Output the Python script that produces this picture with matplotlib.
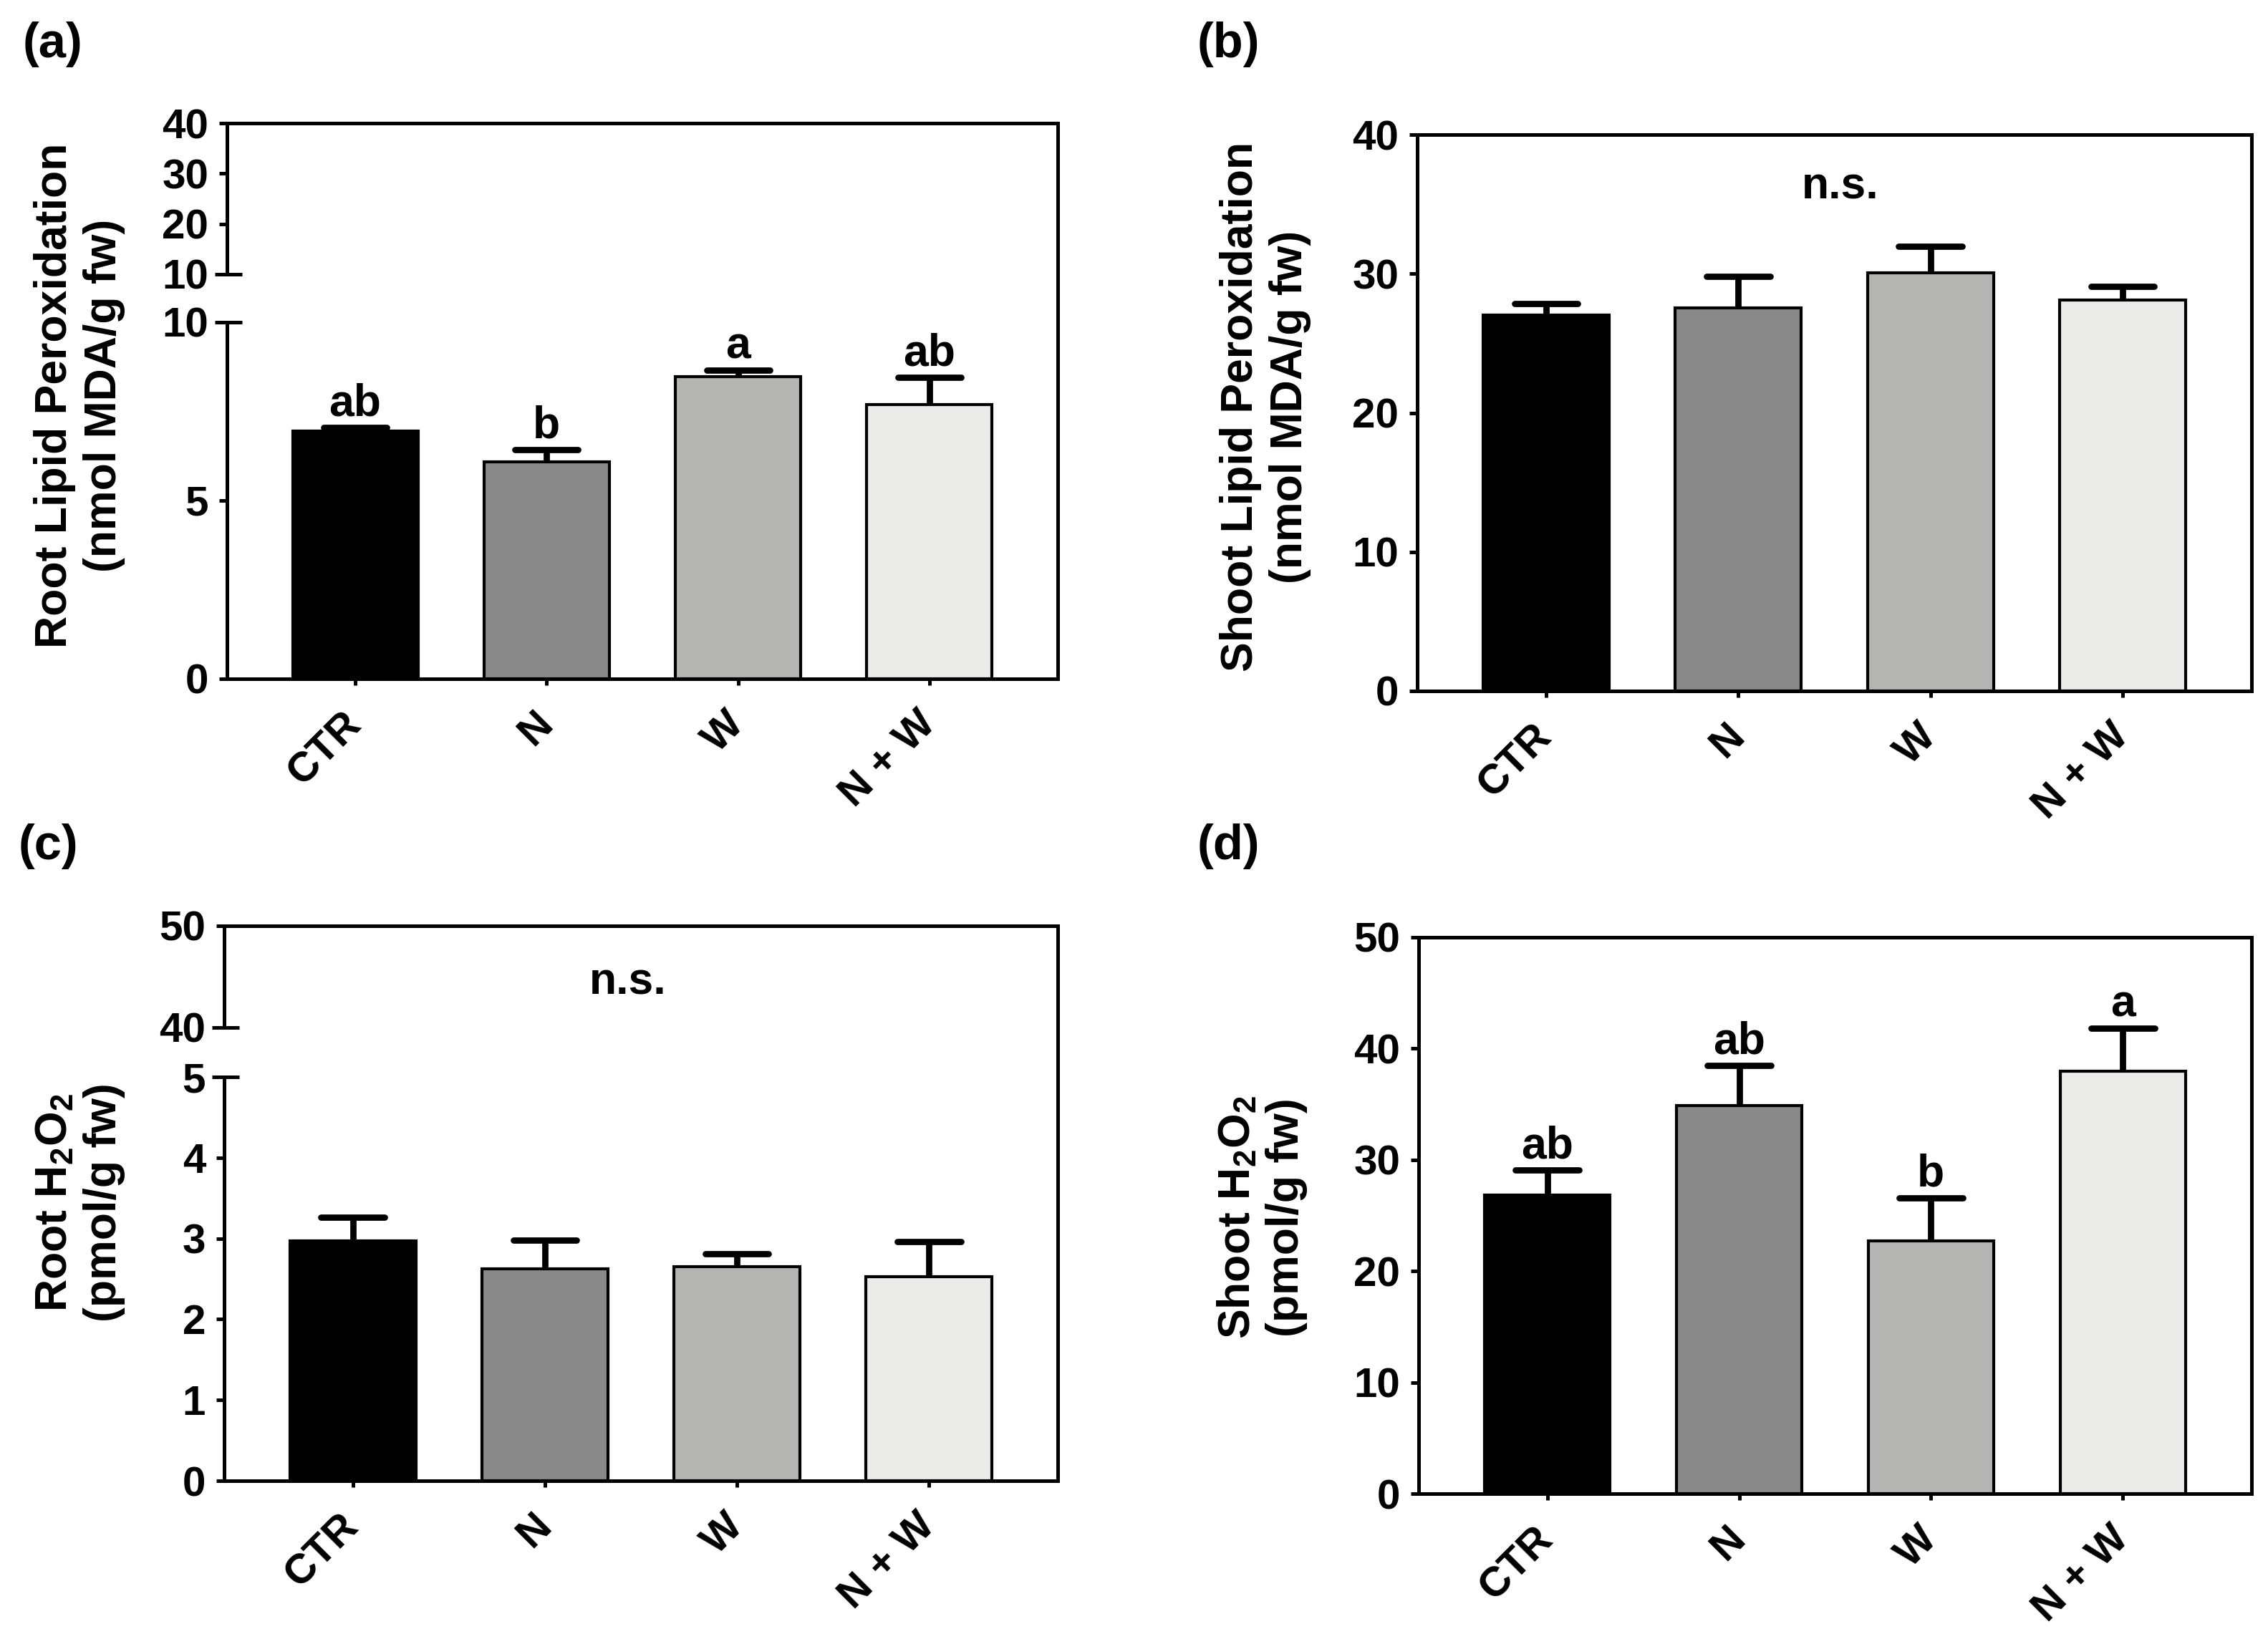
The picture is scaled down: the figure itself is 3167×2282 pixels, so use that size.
import matplotlib
matplotlib.use("Agg")
import matplotlib.pyplot as plt
from matplotlib.lines import Line2D
import numpy as np

plt.rcParams['font.family'] = ['Liberation Sans', 'DejaVu Sans']
plt.rcParams['font.weight'] = 'bold'
plt.rcParams['mathtext.fontset'] = 'custom'
plt.rcParams['mathtext.rm'] = 'Liberation Sans:bold'
plt.rcParams['mathtext.bf'] = 'Liberation Sans:bold'
plt.rcParams['mathtext.default'] = 'rm'

# ---------------- data ----------------
categories = ['CTR', 'N', 'W', 'N + W']
bar_colors = ['#000000', '#898989', '#b4b4b3', '#ebece9']

root_lpo = [6.94, 6.09, 8.48, 7.70]
root_lpo_err = [0.11, 0.34, 0.18, 0.75]
root_lpo_letters = ['ab', 'b', 'a', 'ab']

shoot_lpo = [27.03, 27.56, 30.06, 28.13]
shoot_lpo_err = [0.83, 2.27, 1.89, 0.98]

root_h2o2 = [2.97, 2.62, 2.65, 2.53]
root_h2o2_err = [0.29, 0.36, 0.16, 0.43]

shoot_h2o2 = [26.83, 34.87, 22.70, 37.98]
shoot_h2o2_err = [2.27, 3.63, 3.86, 3.82]
shoot_h2o2_letters = ['ab', 'ab', 'b', 'a']

# ---------------- figure ----------------
W, H = 3167, 2282
DPI = 300
fig = plt.figure(figsize=(W / DPI, H / DPI), dpi=DPI)

LW = 1.2
TICK_FS = 14
XT_FS = 14
LAB_FS = 15
ANN_FS = 15
PANEL_FS = 16.5
XLIM = (-0.67, 3.67)
BAR_W = 0.655
CAP_HW = 0.165


def px_axes(x0, x1, ytop, ybot):
    return fig.add_axes([x0 / W, 1 - ybot / H, (x1 - x0) / W, (ybot - ytop) / H])


def style(ax, xt=True):
    ax.set_xlim(*XLIM)
    for s in ax.spines.values():
        s.set_linewidth(LW)
    ax.tick_params(axis='y', direction='out', length=2.7, width=LW, labelsize=TICK_FS, pad=3.5)
    ax.tick_params(axis='x', direction='out', length=2.2, width=LW, labelsize=XT_FS, pad=11)
    for lab in ax.get_yticklabels():
        lab.set_fontweight('bold')
    if xt:
        ax.set_xticks(range(len(categories)))
        ax.set_xticklabels(categories, rotation=45, ha='right', va='center',
                           rotation_mode='anchor', fontweight='bold')
    else:
        ax.set_xticks([])


def draw_bars(ax, vals, errs):
    x = np.arange(len(vals))
    ax.bar(x, vals, width=BAR_W, color=bar_colors, edgecolor='black', linewidth=1.0, zorder=2)
    tops = np.array(vals) + np.array(errs)
    ax.vlines(x, vals, tops, colors='black', linewidth=2.1, zorder=3)
    ax.hlines(tops, x - CAP_HW, x + CAP_HW, colors='black', linewidth=2.1, zorder=3,
              capstyle='round')
    return tops


def annotate(ax, tops, letters):
    for i, (t, l) in enumerate(zip(tops, letters)):
        ax.annotate(l, xy=(i, t), xytext=(0, 4), textcoords='offset points',
                    ha='center', va='baseline', fontsize=ANN_FS, fontweight='bold')


def break_marks(ax_up, ax_lo):
    # horizontal break marks across the left axis and continuous right spine
    for ax, y in ((ax_up, 0), (ax_lo, 1)):
        bb = ax.get_position()
        xl = bb.x0
        yy = bb.y0 if y == 0 else bb.y1
        fig.add_artist(Line2D([xl - 17 / W, xl + 21 / W], [yy, yy], color='black',
                              linewidth=LW, solid_capstyle='butt'))
    b1 = ax_up.get_position()
    b2 = ax_lo.get_position()
    fig.add_artist(Line2D([b1.x1, b1.x1], [b2.y1, b1.y0], color='black',
                          linewidth=LW, solid_capstyle='butt'))


# ---------------- panel (a) ----------------
axa_up = px_axes(317, 1477, 172, 383)
axa_lo = px_axes(317, 1477, 450, 948)
for ax in (axa_up, axa_lo):
    draw_bars(ax, root_lpo, root_lpo_err)
axa_up.set_ylim(10, 40)
axa_up.set_yticks([10, 20, 30, 40])
axa_lo.set_ylim(0, 10)
axa_lo.set_yticks([0, 5, 10])
style(axa_up, xt=False)
style(axa_lo)
axa_up.spines['bottom'].set_visible(False)
axa_lo.spines['top'].set_visible(False)
tops = np.array(root_lpo) + np.array(root_lpo_err)
annotate(axa_lo, tops, root_lpo_letters)
break_marks(axa_up, axa_lo)

# ---------------- panel (b) ----------------
axb = px_axes(1979, 3144, 188, 965)
tops = draw_bars(axb, shoot_lpo, shoot_lpo_err)
axb.set_ylim(0, 40)
axb.set_yticks([0, 10, 20, 30, 40])
style(axb)
axb.text(1.53, 35.4, 'n.s.', ha='center', va='baseline', fontsize=ANN_FS, fontweight='bold')

# ---------------- panel (c) ----------------
axc_up = px_axes(313, 1477, 1293, 1435)
axc_lo = px_axes(313, 1477, 1504, 2068)
for ax in (axc_up, axc_lo):
    draw_bars(ax, root_h2o2, root_h2o2_err)
axc_up.set_ylim(40, 50)
axc_up.set_yticks([40, 50])
axc_lo.set_ylim(0, 5)
axc_lo.set_yticks([0, 1, 2, 3, 4, 5])
style(axc_up, xt=False)
style(axc_lo)
axc_up.spines['bottom'].set_visible(False)
axc_lo.spines['top'].set_visible(False)
axc_up.text(1.43, 43.3, 'n.s.', ha='center', va='baseline', fontsize=ANN_FS, fontweight='bold')
break_marks(axc_up, axc_lo)

# ---------------- panel (d) ----------------
axd = px_axes(1981, 3144, 1309, 2086)
tops = draw_bars(axd, shoot_h2o2, shoot_h2o2_err)
axd.set_ylim(0, 50)
axd.set_yticks([0, 10, 20, 30, 40, 50])
style(axd)
annotate(axd, tops, shoot_h2o2_letters)

# ---------------- y labels ----------------
ylabels = [
    (111, 552, 'Root Lipid Peroxidation\n(nmol MDA/g fw)'),
    (1767, 568, 'Shoot Lipid Peroxidation\n(nmol MDA/g fw)'),
    (111, 1679, 'Root H$_2$O$_2$\n(pmol/g fw)'),
    (1762, 1700, 'Shoot H$_2$O$_2$\n(pmol/g fw)'),
]
for x, y, t in ylabels:
    fig.text(x / W, 1 - y / H, t, rotation=90, ha='center', va='center',
             multialignment='center', fontsize=LAB_FS, fontweight='bold', linespacing=1.2)

# ---------------- panel letters ----------------
for x, y, t in [(32, 30, '(a)'), (1672, 30, '(b)'), (26, 1150, '(c)'), (1672, 1150, '(d)')]:
    fig.text(x / W, 1 - y / H, t, ha='left', va='top', fontsize=PANEL_FS, fontweight='bold')

fig.savefig('out.png', dpi=DPI)
